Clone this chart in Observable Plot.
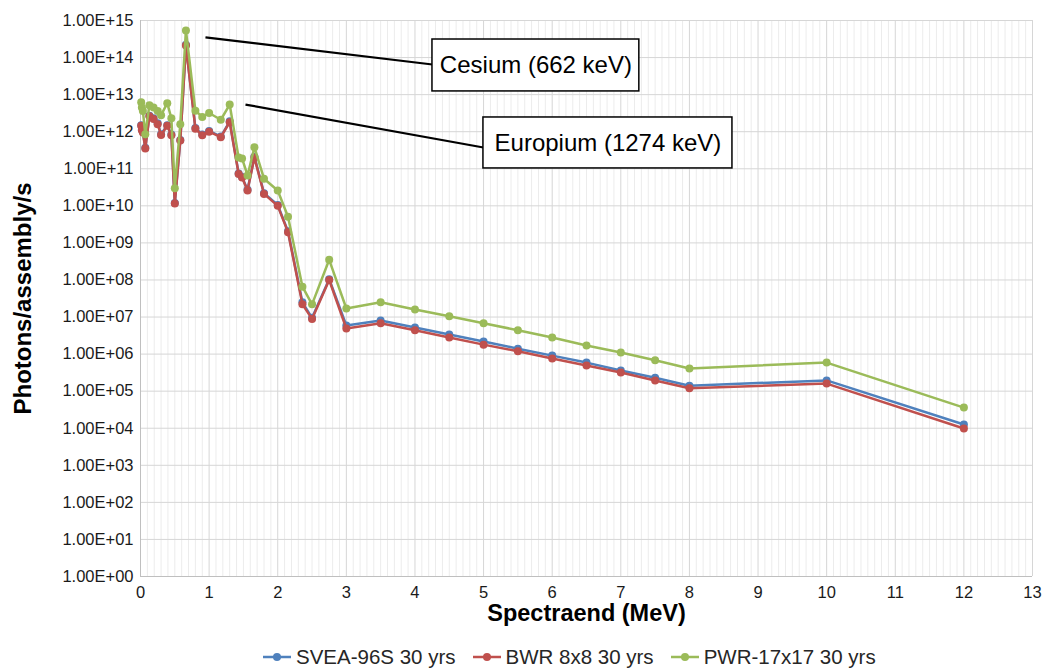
<!DOCTYPE html>
<html>
<head>
<meta charset="utf-8">
<script src="https://cdn.jsdelivr.net/npm/d3@7"></script>
<script src="https://cdn.jsdelivr.net/npm/@observablehq/plot@0.6"></script>
<style>
  html, body { margin: 0; padding: 0; background: #fff; }
  body { width: 1042px; height: 670px; overflow: hidden; font-family: "Liberation Sans", Arial, sans-serif; }
  #legend { display: flex; gap: 0; margin-left: 262px; margin-top: 5px; font-size: 20.5px; color: #262626; }
  #legend .item { display: flex; align-items: center; margin-right: 16px; }
  #legend svg { margin-right: 4px; }
</style>
</head>
<body>
<div id="chart"></div>
<div id="legend"></div>
<script>
// Energies (MeV)
const energy = [0.01, 0.02, 0.035, 0.07, 0.13, 0.19, 0.25, 0.3, 0.39, 0.45, 0.5, 0.58, 0.662, 0.8, 0.9, 1.0, 1.17, 1.3, 1.43, 1.48, 1.56, 1.66, 1.8, 2.0, 2.15, 2.36, 2.5, 2.75, 3.0, 3.5, 4.0, 4.5, 5.0, 5.5, 6.0, 6.5, 7.0, 7.5, 8.0, 10.0, 12.0];

// Photons/assembly/s
const svea = [1.5e12, 1.15e12, 1.0e12, 3.7e11, 2.7e12, 2.3e12, 1.7e12, 8.5e11, 1.5e12, 8.4e11, 1.2e10, 6.0e11, 2.2e14, 1.25e12, 8.4e11, 1.05e12, 7.4e11, 1.9e12, 7.5e10, 6.0e10, 2.7e10, 2.1e11, 2.2e10, 1.05e10, 2.05e9, 2.5e7, 9.5e6, 1.05e8, 5.9e6, 8.1e6, 5.2e6, 3.4e6, 2.2e6, 1.4e6, 9.1e5, 5.9e5, 3.6e5, 2.3e5, 1.4e5, 1.95e5, 1.26e4];
const bwr = [1.45e12, 1.1e12, 9.5e11, 3.5e11, 2.6e12, 2.2e12, 1.6e12, 8.1e11, 1.45e12, 8.0e11, 1.15e10, 5.8e11, 2.1e14, 1.2e12, 8.0e11, 1.0e12, 7.1e11, 1.8e12, 7.2e10, 5.8e10, 2.6e10, 2.0e11, 2.1e10, 1.0e10, 1.95e9, 2.2e7, 8.9e6, 1.0e8, 4.9e6, 6.8e6, 4.4e6, 2.8e6, 1.8e6, 1.2e6, 7.6e5, 4.9e5, 3.2e5, 1.95e5, 1.2e5, 1.6e5, 9.8e3];
const pwr = [6.2e12, 4.5e12, 3.6e12, 8.5e11, 5.2e12, 4.5e12, 3.6e12, 2.8e12, 5.9e12, 2.3e12, 3.0e10, 1.6e12, 5.4e14, 3.7e12, 2.5e12, 3.2e12, 2.1e12, 5.4e12, 2.0e11, 1.9e11, 6.6e10, 3.8e11, 5.4e10, 2.6e10, 5.1e9, 6.6e7, 2.2e7, 3.5e8, 1.7e7, 2.5e7, 1.6e7, 1.05e7, 6.8e6, 4.4e6, 2.8e6, 1.7e6, 1.1e6, 6.8e5, 4.1e5, 5.9e5, 3.6e4];

const seriesNames = ["SVEA-96S 30 yrs", "BWR 8x8 30 yrs", "PWR-17x17 30 yrs"];
const seriesValues = [svea, bwr, pwr];
const seriesColors = ["#4f81bd", "#c0504d", "#9bbb59"];

const xTicks = d3.range(0, 14);
const yTicks = d3.range(0, 16).map(k => 10 ** k);
const xMinor = d3.range(1, 130).filter(i => i % 10 !== 0).map(i => i / 10);

const xTitle = "Spectraend (MeV)";
const yTitle = "Photons/assembly/s";

// Callouts: label, leader line start/end, box extent
const callouts = [
  {label: "Cesium (662 keV)", x1: 0.947, y1: 3.5e14, x2: 4.255, y2: 6.5e13, bx1: 4.255, bx2: 7.27, by1: 1.22e13, by2: 3.07e14},
  {label: "Europium (1274 keV)", x1: 1.53, y1: 5.4e12, x2: 4.998, y2: 3.75e11, bx1: 4.998, bx2: 8.627, by1: 1.02e11, by2: 2.42e12}
];

const fmtE = d => "1.00E+" + String(Math.round(Math.log10(d))).padStart(2, "0");

const seriesMarks = [];
seriesNames.forEach((name, s) => {
  const rows = energy.map((e, i) => ({e, v: seriesValues[s][i]}));
  seriesMarks.push(Plot.line(rows, {x: "e", y: "v", stroke: seriesColors[s], strokeWidth: 2.5}));
  seriesMarks.push(Plot.dot(rows, {x: "e", y: "v", fill: seriesColors[s], r: 4, stroke: "none"}));
});

const chart = Plot.plot({
  width: 1042,
  height: 640,
  marginLeft: 140,
  marginRight: 10,
  marginTop: 20,
  marginBottom: 64,
  x: {domain: [0, 13]},
  y: {type: "log", domain: [1, 1e15]},
  style: {fontFamily: "'Liberation Sans', Arial, sans-serif", fontSize: "16.5px", color: "#1a1a1a", background: "#fff"},
  marks: [
    Plot.gridX(xMinor, {stroke: "#ececec", strokeOpacity: 1, strokeWidth: 1}),
    Plot.gridX(xTicks, {stroke: "#d6d6d6", strokeOpacity: 1, strokeWidth: 1}),
    Plot.gridY(yTicks, {stroke: "#d6d6d6", strokeOpacity: 1, strokeWidth: 1}),
    Plot.ruleX([0], {stroke: "#bfbfbf"}),
    Plot.ruleY([1], {stroke: "#bfbfbf"}),
    Plot.axisX(xTicks, {tickSize: 0, tickPadding: 10, label: null, fontSize: 16.5}),
    Plot.axisY(yTicks, {tickSize: 0, tickPadding: 7, tickFormat: fmtE, label: null, fontSize: 16.5}),
    Plot.text([xTitle], {frameAnchor: "bottom", dy: 44, fontSize: 23.5, fontWeight: "bold", fill: "#000"}),
    Plot.text([yTitle], {frameAnchor: "left", dx: -117, rotate: -90, textAnchor: "middle", fontSize: 24, fontWeight: "bold", fill: "#000"}),
    ...seriesMarks,
    Plot.link(callouts, {x1: "x1", y1: "y1", x2: "x2", y2: "y2", stroke: "#000", strokeWidth: 2.2}),
    Plot.rect(callouts, {x1: "bx1", x2: "bx2", y1: "by1", y2: "by2", fill: "#fff", stroke: "#000", strokeWidth: 1.5}),
    Plot.text(callouts, {x: d => (d.bx1 + d.bx2) / 2, y: d => Math.sqrt(d.by1 * d.by2), text: "label", fontSize: 24, fill: "#000"})
  ]
});
document.getElementById("chart").appendChild(chart);

const legend = document.getElementById("legend");
seriesNames.forEach((name, s) => {
  const item = document.createElement("div");
  item.className = "item";
  item.innerHTML = `<svg width="30" height="12"><line x1="1" y1="6" x2="29" y2="6" stroke="${seriesColors[s]}" stroke-width="2.5"/><circle cx="15" cy="6" r="4" fill="${seriesColors[s]}"/></svg><span>${name}</span>`;
  legend.appendChild(item);
});
</script>
</body>
</html>
